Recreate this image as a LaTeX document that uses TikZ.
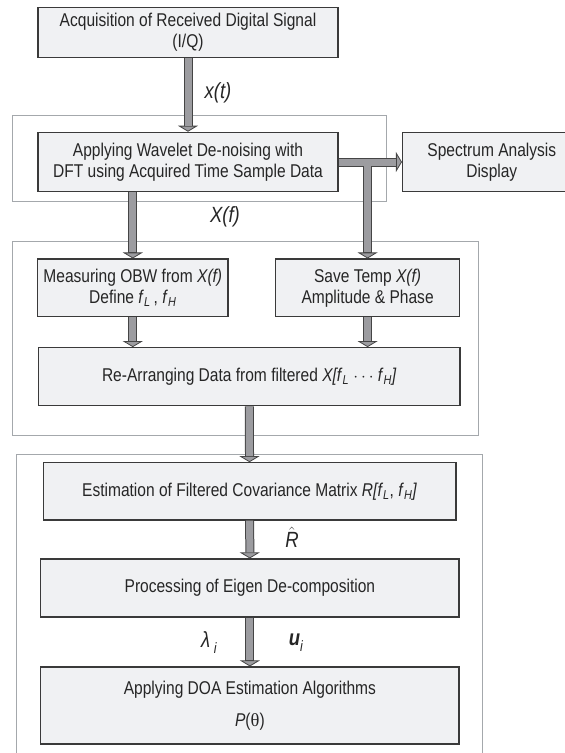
\documentclass[tikz,border=0pt]{standalone}
\usepackage{fontspec}
\setmainfont{Liberation Sans}[FakeStretch=0.84]
\newfontfamily\thetafont{Liberation Serif}
\usetikzlibrary{arrows.meta}
\definecolor{boxfill}{HTML}{F0F1F3}
\definecolor{boxline}{HTML}{3A3A3A}
\definecolor{grpline}{HTML}{A4A8AC}
\definecolor{pipefill}{HTML}{9C9CA0}
\definecolor{pipeline}{HTML}{454545}

\begin{document}
\begin{tikzpicture}[x=1pt,y=-1pt]
      \tikzset{
        stage/.style={rectangle,draw=boxline,fill=boxfill,line width=1.2pt,inner sep=0pt,
          align=center,text=black!85,font=\fontsize{18.5}{21}\selectfont},
        grp/.style={draw=grpline,line width=0.9pt},
        lbl/.style={inner sep=0pt,text=black!85,font=\fontsize{22}{24}\selectfont},
        pipe/.style={draw=pipeline,line width=9pt,
          -{Triangle[width=20pt,length=6pt,fill=pipefill,line width=0.8pt]},
          postaction={draw=pipefill,line width=7pt,arrows=-,shorten >=6pt}}
      }
      \useasboundingbox (0,0) rectangle (565,753);

      \draw[grp] (12.6,115) rectangle (386,201.7);
      \draw[grp] (12.3,241.7) rectangle (478,435);
      \draw[grp] (16.2,454) rectangle (482,780);

      \node[stage,minimum width=300pt,minimum height=50.4pt] (acq) at (188,32.5)
        {Acquisition of Received Digital Signal\\(I/Q)};
      \node[stage,minimum width=300pt,minimum height=59.4pt] (wav) at (188,162)
        {Applying Wavelet De-noising with\\DFT using Acquired Time Sample Data};
      \node[stage,minimum width=178.5pt,minimum height=59pt] (spec) at (491.8,162)
        {Spectrum Analysis\\Display};
      \node[stage,minimum width=190.5pt,minimum height=57.5pt] (meas) at (132.8,287.8)
        {Measuring OBW from \textit{X(f)}\\Define \textit{f}\textsubscript{\textit{L}}\,, \textit{f}\textsubscript{\textit{H}}};
      \node[stage,minimum width=183.8pt,minimum height=57.5pt] (save) at (367.6,287.8)
        {Save Temp \textit{X(f)}\\Amplitude \& Phase};
      \node[stage,minimum width=421.4pt,minimum height=58pt] (rearr) at (249.3,376.7)
        {Re-Arranging Data from filtered \textit{X[f}\textsubscript{\textit{L}} $\cdots$ \textit{f}\textsubscript{\textit{H}}\textit{]}};
      \node[stage,minimum width=412.8pt,minimum height=57.3pt] (est) at (249.6,491.4)
        {Estimation of Filtered Covariance Matrix \textit{R[f}\textsubscript{\textit{L}}, \textit{f}\textsubscript{\textit{H}}\textit{]}};
      \node[stage,minimum width=418.3pt,minimum height=58pt] (proc) at (249.9,588)
        {Processing of Eigen De-composition};
      \node[stage,minimum width=418.3pt,minimum height=77pt] (doa) at (249.9,705.5)
        {Applying DOA Estimation Algorithms\\[11pt]\textit{P}({\thetafont θ})};

      \node[lbl] (xt) at (218,93) {\textit{x(t)}};
      \node[lbl] (xf) at (225,217) {\textit{X(f)}};
      \node[lbl] (rhat) at (292,537) {$\hat{\textit{R}}$};
      \node[lbl] (lam) at (209,643) {\textit{λ}\raisebox{-6pt}{\,\fontsize{15}{15}\selectfont\textit{i}}};
      \node[lbl] (ui) at (296,643) {\textbf{\textit{u}}\raisebox{-6pt}{\fontsize{15}{15}\selectfont\textit{i}}};

      \coordinate (br) at (367.6,166);

      \draw (acq) edge[pipe] (wav)
            (wav) edge[pipe] (spec)
            (br) edge[pipe] (save)
            (wav.south -| meas.north) edge[pipe] (meas)
            (meas) edge[pipe] (meas.south |- rearr.north)
            (save) edge[pipe] (save.south |- rearr.north)
            (rearr) edge[pipe] (est)
            (est) edge[pipe] (proc)
            (proc) edge[pipe] (doa);
    \end{tikzpicture}
\end{document}
